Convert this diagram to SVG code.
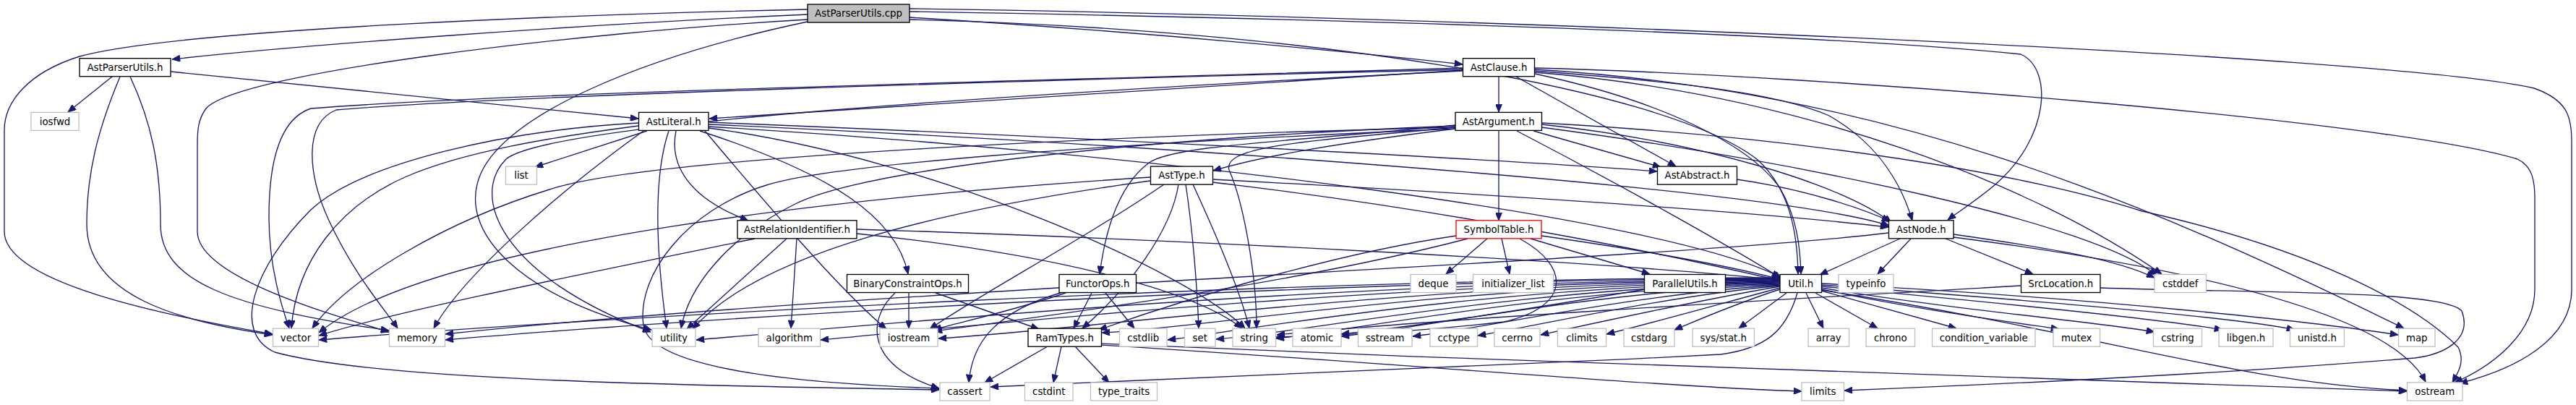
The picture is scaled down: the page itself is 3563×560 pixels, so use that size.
<svg xmlns="http://www.w3.org/2000/svg" width="3563" height="560" viewBox="0 0 3563 560">
<defs>
<style>
rect{stroke-width:1.33}
.b rect{fill:#fff;stroke:#000}
.s rect{fill:#fff;stroke:#bfbfbf}
.r rect{fill:#fff;stroke:#ff0000}
.c rect{fill:#bfbfbf;stroke:#000}
text{font-family:"DejaVu Sans","Liberation Sans",sans-serif;font-size:13.33px;fill:#000;text-anchor:middle}
#edges path{fill:none;stroke:#191970;stroke-width:1.33;marker-end:url(#ah)}
</style>
<marker id="ah" viewBox="0 0 12 10" refX="12" refY="5" markerWidth="12" markerHeight="9" markerUnits="userSpaceOnUse" orient="auto"><path d="M0,0 L12,5 L0,10 z" fill="#191970" stroke="#191970" stroke-width="1"/></marker>
</defs>
<rect width="3563" height="560" fill="#fff"/>
<g id="edges">
<path d="M1117,20 C800,34 420,62 238,82"/>
<path d="M1117,13 C800,20 250,40 110,78 C40,100 6,140 6,180 L6,320 C6,390 220,435 377,462"/>
<path d="M1117,27 C800,45 330,100 285,150 C274,165 273,180 273,200 L273,320 C273,380 440,430 538,459"/>
<path d="M1117,30 C880,80 700,160 665,240 C630,320 720,410 901,456"/>
<path d="M1258,24 C1600,45 1900,75 2023,89"/>
<path d="M1258,27 C1800,40 2300,120 2430,220 C2475,260 2486,320 2487,379"/>
<path d="M1258,16 C1800,25 2500,45 2795,75 C2840,95 2835,190 2760,255 C2730,280 2710,292 2694,304"/>
<path d="M1258,12 C2000,22 3300,75 3505,122 C3550,138 3557,160 3557,195 L3557,400 C3557,470 3480,510 3402,530"/>
<path d="M155,106 L94,155"/>
<path d="M166,106 C135,180 120,240 120,310 C120,410 250,445 377,463"/>
<path d="M180,106 C210,170 222,230 222,310 C222,390 320,425 538,457"/>
<path d="M236,99 L883,164"/>
<path d="M2073,106 L2073,155"/>
<path d="M2023,97 L981,164"/>
<path d="M2023,94 C1500,110 700,128 430,150 C385,165 372,230 372,300 C372,370 390,425 400,454"/>
<path d="M2023,96 C1400,112 700,132 465,152 C420,170 425,240 455,305 C490,380 530,425 550,454"/>
<path d="M2097,106 L2318,230"/>
<path d="M2123,98 C2300,112 2450,125 2530,160 C2600,200 2630,255 2645,305"/>
<path d="M2123,102 C2300,140 2420,200 2462,260 C2485,300 2490,340 2491,379"/>
<path d="M2123,100 C2500,130 2820,260 2990,379"/>
<path d="M2123,96 C2600,125 2950,270 3325,454"/>
<path d="M2123,94 C2500,103 3300,165 3482,220 C3503,230 3506,250 3506,275 L3506,400 C3506,460 3450,505 3395,529"/>
<path d="M2023,98 C1400,130 760,170 700,220 C650,270 690,380 900,459"/>
<path d="M895,181 L740,231"/>
<path d="M935,181 C925,230 955,275 1035,305"/>
<path d="M968,181 C1150,240 1240,300 1256,379"/>
<path d="M925,181 C905,240 905,330 922,454"/>
<path d="M890,181 C780,260 640,380 600,454"/>
<path d="M883,174 C760,190 640,210 560,245 C470,285 410,360 403,454"/>
<path d="M883,170 C700,180 500,225 430,290 C350,370 320,460 380,487 C520,525 900,532 1299,539"/>
<path d="M975,181 C1050,270 1160,400 1226,455"/>
<path d="M980,177 C1300,220 1650,380 1722,454"/>
<path d="M980,169 C1500,190 2100,222 2292,237"/>
<path d="M980,172 C1600,200 2450,260 2613,312"/>
<path d="M980,175 C1600,212 2300,300 2462,383"/>
<path d="M2013,178 C1850,198 1750,215 1678,236"/>
<path d="M2073,181 L2073,305"/>
<path d="M2013,173 C1800,195 1620,200 1588,226 C1550,255 1530,310 1521,379"/>
<path d="M2013,176 C1820,195 1690,200 1700,235 C1720,280 1738,380 1738,454"/>
<path d="M2121,181 L2297,231"/>
<path d="M2132,172 C2350,195 2550,255 2616,308"/>
<path d="M2098,181 C2250,260 2400,345 2464,385"/>
<path d="M2132,176 C2500,225 2900,310 2983,381"/>
<path d="M2013,176 C1600,186 900,215 760,262 C620,305 480,385 432,454"/>
<path d="M2013,178 C1500,200 1150,228 1060,256 C950,290 880,380 890,450 C900,510 1100,530 1299,537"/>
<path d="M2013,174 C1600,190 1200,232 1100,282 C1000,332 952,400 942,454"/>
<path d="M2132,170 C2500,190 2800,240 2963,292 C3200,345 3340,420 3400,480 C3410,500 3400,515 3392,529"/>
<path d="M2402,248 C2500,262 2580,290 2614,306"/>
<path d="M1677,248 C2000,265 2400,290 2612,314"/>
<path d="M1677,252 C2000,290 2300,350 2462,388"/>
<path d="M1630,255 C1620,320 1560,400 1497,454"/>
<path d="M1640,255 C1650,320 1656,400 1658,454"/>
<path d="M1650,255 C1680,320 1715,400 1728,454"/>
<path d="M1610,255 C1500,330 1350,410 1286,455"/>
<path d="M1591,245 C1200,270 600,330 441,460"/>
<path d="M1591,250 C1300,290 1050,350 958,455"/>
<path d="M1185,317 C1600,330 2200,360 2462,387"/>
<path d="M1185,323 C1450,350 1650,400 1718,454"/>
<path d="M1088,330 L950,455"/>
<path d="M1102,330 L1094,454"/>
<path d="M1044,330 C800,380 550,430 441,464"/>
<path d="M2057,330 L2000,379"/>
<path d="M2077,330 L2088,379"/>
<path d="M2117,330 L2282,379"/>
<path d="M2132,326 C2300,350 2400,370 2462,386"/>
<path d="M2030,330 C1800,390 1500,430 1292,458"/>
<path d="M2014,326 C1850,350 1650,410 1520,456"/>
<path d="M2102,330 C2175,370 2170,425 2080,445 C1950,460 1850,464 1765,466"/>
<path d="M1238,405 C1200,440 1195,505 1299,537"/>
<path d="M1257,405 L1257,454"/>
<path d="M1294,405 L1437,455"/>
<path d="M1510,405 L1485,454"/>
<path d="M1529,405 L1569,454"/>
<path d="M1470,404 C1380,430 1345,470 1340,529"/>
<path d="M1474,405 C1400,430 1330,445 1291,456"/>
<path d="M2275,400 C2100,430 1950,452 1855,462"/>
<path d="M2471,405 L2405,454"/>
<path d="M2498,405 L2522,454"/>
<path d="M2511,405 L2597,454"/>
<path d="M2519,402 L2706,454"/>
<path d="M2519,400 C2650,428 2780,445 2848,455"/>
<path d="M2519,398 C2700,428 2900,445 2980,459"/>
<path d="M2519,396 C2800,422 3000,443 3074,456"/>
<path d="M2519,394 C2850,418 3100,440 3174,456"/>
<path d="M2519,392 C2900,412 3200,445 3317,463"/>
<path d="M2519,401 C2900,460 3100,530 3329,540"/>
<path d="M2486,405 C2470,460 2440,482 2380,490 C2000,510 1600,525 1370,535"/>
<path d="M2462,400 C2400,420 2350,442 2316,456"/>
<path d="M2462,398 C2380,420 2280,448 2222,462"/>
<path d="M2462,396 C2350,415 2200,448 2131,463"/>
<path d="M2462,395 C2300,410 2120,452 2044,464"/>
<path d="M2462,394 C2250,408 2050,455 1954,465"/>
<path d="M2462,393 C2200,404 1950,456 1855,465"/>
<path d="M2462,392 C2150,400 1850,460 1765,468"/>
<path d="M2462,391 C2100,398 1800,460 1682,469"/>
<path d="M2462,390 C2050,396 1700,460 1615,470"/>
<path d="M2462,389 C2000,394 1650,455 1524,460"/>
<path d="M2462,388 C1950,392 1500,456 1298,468"/>
<path d="M2462,387 C1900,390 1300,455 1135,470"/>
<path d="M2462,386 C1850,388 1200,450 963,470"/>
<path d="M2462,385 C1800,386 900,445 616,470"/>
<path d="M2462,384 C1800,384 800,440 441,470"/>
<path d="M2796,395 C2500,412 2000,440 1766,463"/>
<path d="M2905,398 C3100,405 3380,400 3405,430 C3420,470 3380,490 3340,495 C3100,515 2800,530 2551,540"/>
<path d="M1449,479 L1362,529"/>
<path d="M1468,479 L1457,529"/>
<path d="M1487,479 L1534,529"/>
<path d="M1523,477 C1900,500 2300,535 2492,541"/>
<path d="M1523,475 C2200,505 3000,530 3329,541"/>
<path d="M2628,330 L2517,380"/>
<path d="M2643,330 L2597,379"/>
<path d="M2691,330 L2812,379"/>
<path d="M2702,324 C2850,345 2930,360 2980,384"/>
<path d="M2612,322 C2300,360 1200,400 616,462"/>
<path d="M2702,328 C2950,360 3300,420 3355,528"/>
</g>
<g id="n-cpp" class="c"><rect x="1117" y="6" width="141" height="25"/><text x="1187.5" y="23.3">AstParserUtils.cpp</text></g>
<g id="n-apuh" class="b"><rect x="110" y="80.7" width="126" height="25"/><text x="173" y="98">AstParserUtils.h</text></g>
<g id="n-clause" class="b"><rect x="2023.5" y="80.7" width="99" height="25"/><text x="2073" y="98">AstClause.h</text></g>
<g id="n-iosfwd" class="s"><rect x="43" y="155.4" width="66" height="25"/><text x="76" y="172.7">iosfwd</text></g>
<g id="n-literal" class="b"><rect x="883.5" y="155.4" width="96.5" height="25"/><text x="931.75" y="172.7">AstLiteral.h</text></g>
<g id="n-argument" class="b"><rect x="2013" y="155.4" width="119.5" height="25"/><text x="2072.75" y="172.7">AstArgument.h</text></g>
<g id="n-list" class="s"><rect x="699.5" y="230.1" width="43" height="25"/><text x="721" y="247.4">list</text></g>
<g id="n-asttype" class="b"><rect x="1591.5" y="230.1" width="86" height="25"/><text x="1634.5" y="247.4">AstType.h</text></g>
<g id="n-abstract" class="b"><rect x="2292.5" y="230.1" width="110" height="25"/><text x="2347.5" y="247.4">AstAbstract.h</text></g>
<g id="n-relid" class="b"><rect x="1020" y="304.8" width="165" height="25"/><text x="1102.5" y="322.1">AstRelationIdentifier.h</text></g>
<g id="n-symtab" class="r"><rect x="2014" y="304.8" width="118" height="25"/><text x="2073" y="322.1">SymbolTable.h</text></g>
<g id="n-astnode" class="b"><rect x="2612.5" y="304.8" width="89.5" height="25"/><text x="2657.25" y="322.1">AstNode.h</text></g>
<g id="n-binops" class="b"><rect x="1171.5" y="379.5" width="168" height="25"/><text x="1255.5" y="396.8">BinaryConstraintOps.h</text></g>
<g id="n-functorops" class="b"><rect x="1465" y="379.5" width="106.5" height="25"/><text x="1518.25" y="396.8">FunctorOps.h</text></g>
<g id="n-deque" class="s"><rect x="1951" y="379.5" width="63" height="25"/><text x="1982.5" y="396.8">deque</text></g>
<g id="n-initlist" class="s"><rect x="2037.5" y="379.5" width="111" height="25"/><text x="2093" y="396.8">initializer_list</text></g>
<g id="n-parutils" class="b"><rect x="2274.5" y="379.5" width="112" height="25"/><text x="2330.5" y="396.8">ParallelUtils.h</text></g>
<g id="n-util" class="b"><rect x="2462" y="379.5" width="57.5" height="25"/><text x="2490.75" y="396.8">Util.h</text></g>
<g id="n-typeinfo" class="s"><rect x="2543" y="379.5" width="76" height="25"/><text x="2581" y="396.8">typeinfo</text></g>
<g id="n-srcloc" class="b"><rect x="2795.5" y="379.5" width="109.5" height="25"/><text x="2850.25" y="396.8">SrcLocation.h</text></g>
<g id="n-cstddef" class="s"><rect x="2980" y="379.5" width="71.5" height="25"/><text x="3015.75" y="396.8">cstddef</text></g>
<g id="n-vector" class="s"><rect x="377.5" y="454.2" width="63" height="25"/><text x="409" y="471.5">vector</text></g>
<g id="n-memory" class="s"><rect x="538.5" y="454.2" width="77" height="25"/><text x="577" y="471.5">memory</text></g>
<g id="n-utility" class="s"><rect x="902" y="454.2" width="60" height="25"/><text x="932" y="471.5">utility</text></g>
<g id="n-algorithm" class="s"><rect x="1049" y="454.2" width="85.5" height="25"/><text x="1091.75" y="471.5">algorithm</text></g>
<g id="n-iostream" class="s"><rect x="1217" y="454.2" width="80" height="25"/><text x="1257" y="471.5">iostream</text></g>
<g id="n-ramtypes" class="b"><rect x="1422" y="454.2" width="101.5" height="25"/><text x="1472.75" y="471.5">RamTypes.h</text></g>
<g id="n-cstdlib" class="s"><rect x="1548.5" y="454.2" width="65.5" height="25"/><text x="1581.25" y="471.5">cstdlib</text></g>
<g id="n-set" class="s"><rect x="1638.5" y="454.2" width="42.5" height="25"/><text x="1659.75" y="471.5">set</text></g>
<g id="n-string" class="s"><rect x="1705" y="454.2" width="59.5" height="25"/><text x="1734.75" y="471.5">string</text></g>
<g id="n-atomic" class="s"><rect x="1788" y="454.2" width="67" height="25"/><text x="1821.5" y="471.5">atomic</text></g>
<g id="n-sstream" class="s"><rect x="1878.5" y="454.2" width="74.5" height="25"/><text x="1915.75" y="471.5">sstream</text></g>
<g id="n-cctype" class="s"><rect x="1978" y="454.2" width="65.5" height="25"/><text x="2010.75" y="471.5">cctype</text></g>
<g id="n-cerrno" class="s"><rect x="2067" y="454.2" width="63" height="25"/><text x="2098.5" y="471.5">cerrno</text></g>
<g id="n-climits" class="s"><rect x="2154.5" y="454.2" width="67" height="25"/><text x="2188" y="471.5">climits</text></g>
<g id="n-cstdarg" class="s"><rect x="2246" y="454.2" width="70" height="25"/><text x="2281" y="471.5">cstdarg</text></g>
<g id="n-sysstat" class="s"><rect x="2341" y="454.2" width="85.5" height="25"/><text x="2383.75" y="471.5">sys/stat.h</text></g>
<g id="n-array" class="s"><rect x="2501" y="454.2" width="56.5" height="25"/><text x="2529.25" y="471.5">array</text></g>
<g id="n-chrono" class="s"><rect x="2581" y="454.2" width="67.5" height="25"/><text x="2614.75" y="471.5">chrono</text></g>
<g id="n-condvar" class="s"><rect x="2672.5" y="454.2" width="142.5" height="25"/><text x="2743.75" y="471.5">condition_variable</text></g>
<g id="n-mutex" class="s"><rect x="2840" y="454.2" width="64.5" height="25"/><text x="2872.25" y="471.5">mutex</text></g>
<g id="n-cstring" class="s"><rect x="2978.5" y="454.2" width="67" height="25"/><text x="3012" y="471.5">cstring</text></g>
<g id="n-libgen" class="s"><rect x="3069" y="454.2" width="75" height="25"/><text x="3106.5" y="471.5">libgen.h</text></g>
<g id="n-unistd" class="s"><rect x="3167.5" y="454.2" width="75" height="25"/><text x="3205" y="471.5">unistd.h</text></g>
<g id="n-map" class="s"><rect x="3317.5" y="454.2" width="50.5" height="25"/><text x="3342.75" y="471.5">map</text></g>
<g id="n-cassert" class="s"><rect x="1300" y="528.9" width="69" height="25"/><text x="1334.5" y="546.2">cassert</text></g>
<g id="n-cstdint" class="s"><rect x="1417.5" y="528.9" width="66.5" height="25"/><text x="1450.75" y="546.2">cstdint</text></g>
<g id="n-typetraits" class="s"><rect x="1508.5" y="528.9" width="92" height="25"/><text x="1554.5" y="546.2">type_traits</text></g>
<g id="n-limits" class="s"><rect x="2492" y="528.9" width="58.5" height="25"/><text x="2521.25" y="546.2">limits</text></g>
<g id="n-ostream" class="s"><rect x="3329.5" y="528.9" width="76.5" height="25"/><text x="3367.75" y="546.2">ostream</text></g>
</svg>
